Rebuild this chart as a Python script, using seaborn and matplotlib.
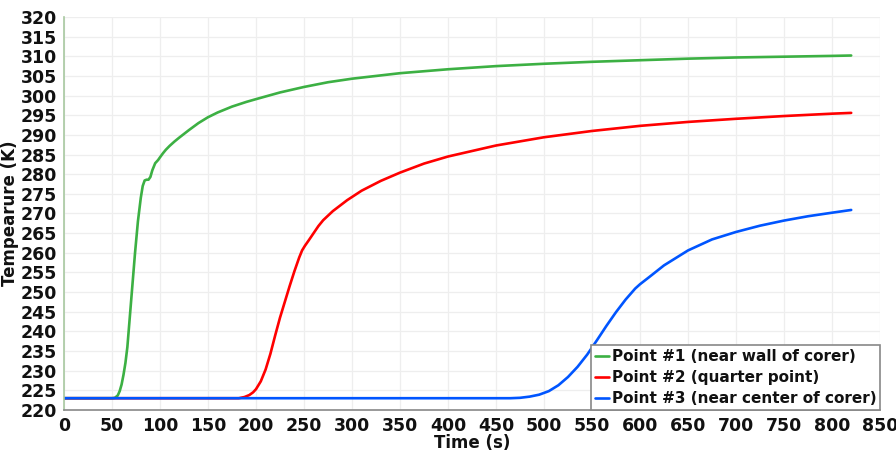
import numpy as np
import pandas as pd
import matplotlib
matplotlib.use("Agg")
import matplotlib.pyplot as plt
import seaborn as sns

# ---- data ----
t_p1 = [0, 50, 53, 56, 58, 60, 62, 64, 66, 68, 71, 74, 77, 80, 82, 84, 86, 88, 90, 92,
        95, 98, 100, 103, 106, 110, 115, 120, 130, 140, 150, 160, 175, 190, 200, 225,
        250, 275, 300, 350, 400, 450, 500, 550, 600, 650, 700, 750, 800, 820]
T_p1 = [223, 223, 223.1, 223.7, 224.8, 226.5, 229, 232, 236, 242, 251, 260, 268, 274,
        277, 278.4, 278.6, 278.6, 279.3, 281, 282.8, 283.6, 284.3, 285.3, 286.2, 287.2,
        288.3, 289.3, 291.2, 293, 294.5, 295.7, 297.2, 298.4, 299.1, 300.8, 302.2,
        303.4, 304.3, 305.7, 306.7, 307.5, 308.1, 308.6, 309, 309.4, 309.7, 309.9,
        310.1, 310.2]

t_p2 = [0, 182, 188, 193, 197, 200, 205, 210, 215, 220, 225, 230, 235, 240, 245, 248,
        251, 255, 260, 265, 270, 280, 295, 310, 330, 350, 375, 400, 450, 500, 550, 600,
        650, 700, 750, 800, 820]
T_p2 = [223, 223, 223.3, 223.8, 224.5, 225.3, 227.3, 230.3, 234.3, 239, 243.5, 247.5,
        251.5, 255.3, 258.8, 260.6, 261.8, 263.2, 265, 266.8, 268.3, 270.6, 273.4,
        275.8, 278.3, 280.4, 282.7, 284.5, 287.3, 289.4, 291, 292.3, 293.3, 294.1,
        294.8, 295.4, 295.6]

t_p3 = [0, 465, 475, 485, 495, 505, 515, 525, 535, 545, 555, 565, 575, 585, 595, 600,
        610, 625, 650, 675, 700, 725, 750, 775, 800, 820]
T_p3 = [223, 223, 223.1, 223.4, 223.9, 224.8, 226.3, 228.4, 231, 234.1, 237.7, 241.4,
        244.9, 248.1, 250.9, 252, 253.9, 256.8, 260.6, 263.4, 265.3, 266.9, 268.2,
        269.3, 270.2, 270.9]

series_names = ["Point #1 (near wall of corer)",
                "Point #2 (quarter point)",
                "Point #3 (near center of corer)"]
colors = ["#3cb043", "#ff0000", "#0055ff"]

x_ticks = list(range(0, 851, 50))
y_ticks = list(range(220, 321, 5))

frames = []
for name, t, T in zip(series_names, [t_p1, t_p2, t_p3], [T_p1, T_p2, T_p3]):
    frames.append(pd.DataFrame({"Time (s)": t, "Temp": T, "Series": name}))
df = pd.concat(frames, ignore_index=True)

sns.set_style("whitegrid")
plt.rcParams["font.family"] = ["DejaVu Sans"]

fig = plt.figure(figsize=(8.96, 4.51), dpi=100)
ax = fig.add_axes([64 / 896, 1 - 410 / 451, (880 - 64) / 896, (410 - 17) / 451])

sns.lineplot(data=df, x="Time (s)", y="Temp", hue="Series",
             palette=dict(zip(series_names, colors)), linewidth=1.9,
             sort=False, estimator=None, ax=ax)

ax.set_xlim(0, 850)
ax.set_ylim(220, 320)
ax.set_xticks(x_ticks)
ax.set_yticks(y_ticks)
ax.grid(True, color="#eeeeee", linewidth=0.9)
ax.tick_params(axis="both", direction="out", length=4, width=1, color="#888888",
               labelsize=12.5, pad=1, labelcolor="#111111")
for lab in ax.get_xticklabels() + ax.get_yticklabels():
    lab.set_fontweight("semibold")

for s in ["top", "right"]:
    ax.spines[s].set_visible(False)
ax.spines["bottom"].set_color("#888888")
ax.spines["left"].set_color("#a8c8a0")
ax.spines["bottom"].set_linewidth(1.2)
ax.spines["left"].set_linewidth(1.2)

ax.set_xlabel("Time (s)", fontsize=12, fontweight="bold", labelpad=-1, color="#111111")
ax.set_ylabel("Tempearure (K)", fontsize=12, fontweight="bold", labelpad=1, color="#111111")

leg = ax.legend(loc="lower right", frameon=True, fancybox=False, fontsize=11,
                handlelength=0.9, handletextpad=0.2, borderpad=0.25,
                labelspacing=0.4, borderaxespad=0.0)
leg.get_frame().set_edgecolor("#888888")
leg.get_frame().set_linewidth(1.2)
leg.get_frame().set_alpha(1)
for txt in leg.get_texts():
    txt.set_fontweight("semibold")
    txt.set_color("#111111")

fig.savefig("out.png", dpi=100)
